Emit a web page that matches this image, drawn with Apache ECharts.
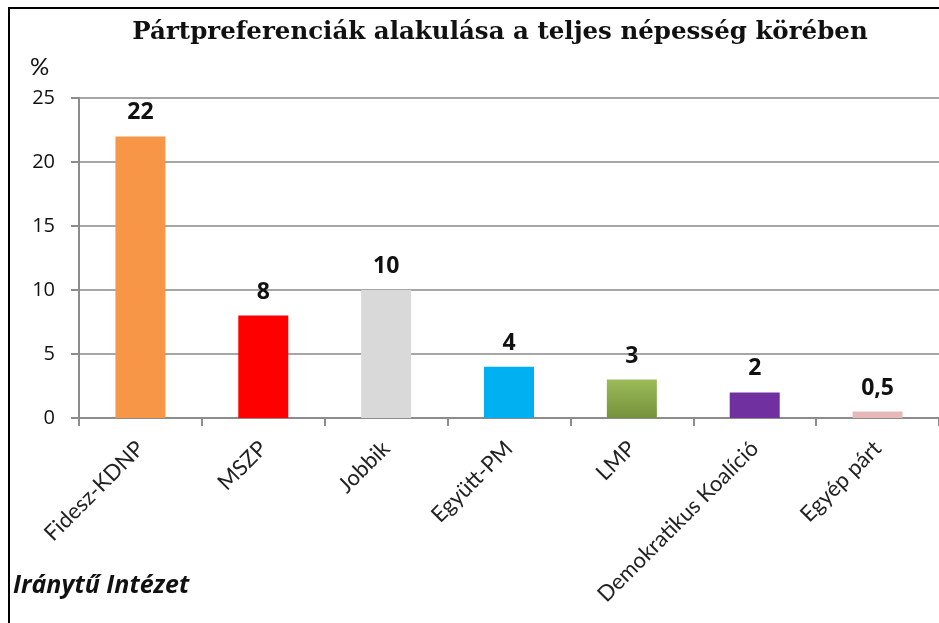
<!DOCTYPE html>
<html>
<head>
<meta charset="utf-8">
<style>
  html, body { margin: 0; padding: 0; background: #fff; }
  #frame { position: absolute; left: 8px; top: 7px; right: -2px; bottom: -2px; border-left: 2px solid #000; border-top: 2px solid #000; }
  #chart { position: absolute; left: 0; top: 0; width: 939px; height: 623px; }
</style>
<script src="https://cdn.jsdelivr.net/npm/echarts@6/dist/echarts.min.js"></script>
</head>
<body>
<div id="frame"></div>
<div id="chart"></div>
<script>
const categories = ['Fidesz-KDNP', 'MSZP', 'Jobbik', 'Együtt-PM', 'LMP', 'Demokratikus Koalíció', 'Egyép párt'];
const values = [22, 8, 10, 4, 3, 2, 0.5];
const barColors = [
  ['#F79646', '#F79646'],
  ['#FF0000', '#FF0000'],
  ['#D9D9D9', '#D9D9D9'],
  ['#00B0F0', '#00B0F0'],
  ['#9BBB59', '#76923C'],
  ['#7030A0', '#7030A0'],
  ['#E6B9B8', '#E6B9B8']
];
const yTicks = [0, 5, 10, 15, 20, 25];

const chart = echarts.init(document.getElementById('chart'), null, { renderer: 'canvas' });

chart.setOption({
  animation: false,
  title: {
    text: 'Pártpreferenciák alakulása a teljes népesség körében',
    left: 495,
    textAlign: 'center',
    top: 15,
    textStyle: { fontFamily: 'DejaVu Serif', fontWeight: 'bold', fontSize: 24.5, color: '#111' }
  },
  graphic: [
    { type: 'text', left: 30, top: 55, style: { text: '%', font: '24px Lato', fill: '#111' } },
    { type: 'text', left: 13, top: 573, style: { text: 'Iránytű Intézet', font: 'italic bold 25px "Open Sans"', fill: '#111' } }
  ],
  grid: { left: 79, right: 0, top: 98, bottom: 205 },
  xAxis: {
    type: 'category',
    data: categories,
    axisLine: { lineStyle: { color: '#8c8c8c', width: 2 } },
    axisTick: { show: true, length: 8, lineStyle: { color: '#8c8c8c', width: 2 } },
    axisLabel: { rotate: 45, fontFamily: 'Lato', fontSize: 22, color: '#222', margin: 27 }
  },
  yAxis: {
    type: 'value',
    min: 0,
    max: yTicks[yTicks.length - 1],
    interval: yTicks[1] - yTicks[0],
    axisLine: { show: true, lineStyle: { color: '#8c8c8c', width: 2 } },
    axisTick: { show: true, length: 8, lineStyle: { color: '#8c8c8c', width: 2 } },
    splitLine: { lineStyle: { color: '#a6a6a6', width: 2 } },
    axisLabel: { fontFamily: 'Open Sans', fontSize: 20, color: '#111', margin: 24 }
  },
  series: [{
    type: 'bar',
    barWidth: 50,
    data: values.map((v, i) => ({
      value: v,
      itemStyle: {
        color: new echarts.graphic.LinearGradient(0, 0, 0, 1, [
          { offset: 0, color: barColors[i][0] },
          { offset: 1, color: barColors[i][1] }
        ])
      }
    })),
    label: {
      show: true,
      position: 'top',
      distance: 12,
      fontFamily: 'Open Sans',
      fontWeight: 'bold',
      fontSize: 23,
      color: '#111',
      formatter: p => String(p.value).replace('.', ',')
    }
  }]
});
</script>
</body>
</html>
